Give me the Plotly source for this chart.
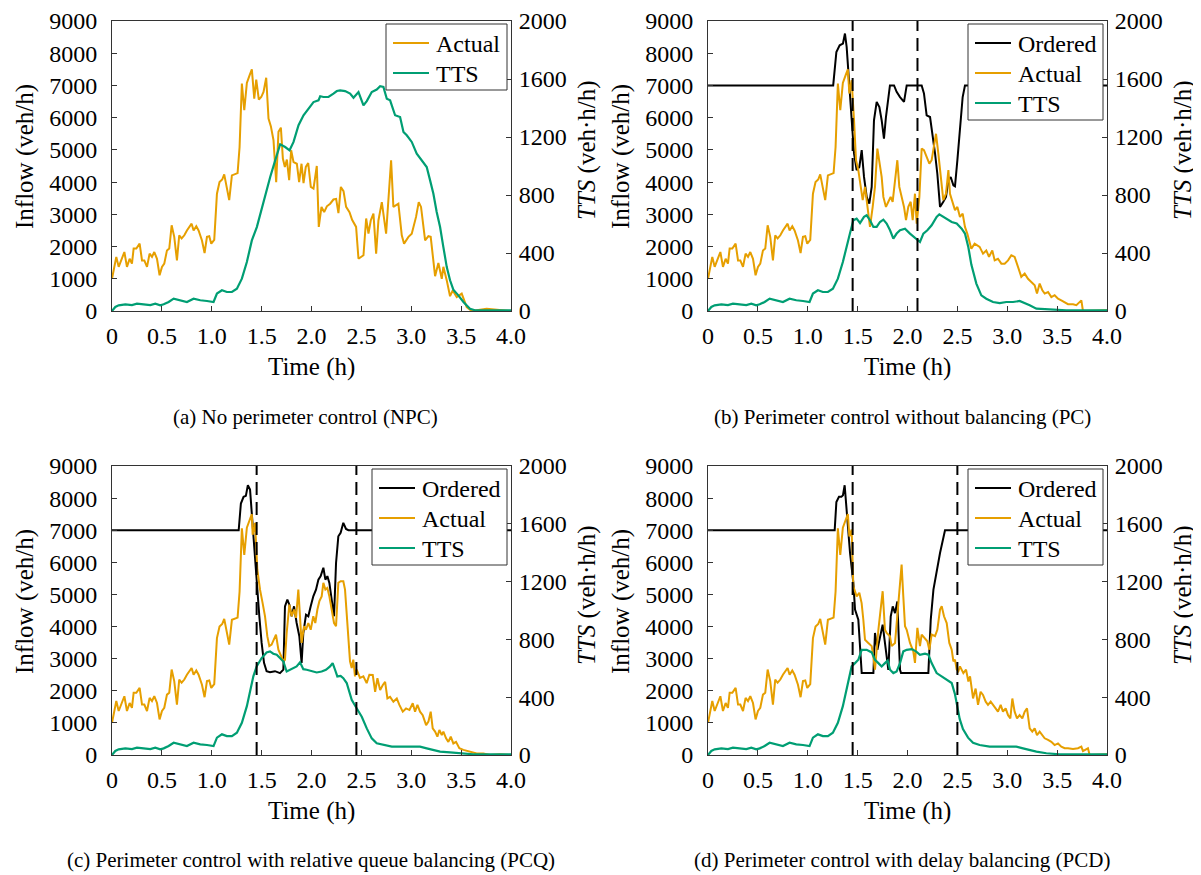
import plotly.graph_objects as go

SW, SH = 1201, 875          # browser window
OFF = 8                     # default body margin of the html page
W, H = SW - OFF, SH - OFF   # paper starts at screen (8, 8) and reaches the window edge
ORANGE = "#E69F00"
TEAL = "#009E73"
BLACK = "#000000"
AXC = "#333333"
FONT = "Liberation Serif"
TEXT_FONT = "Times New Roman"

# ---------------- tick labels ----------------
X_TICKS = [0, 0.5, 1.0, 1.5, 2.0, 2.5, 3.0, 3.5, 4.0]
X_TICK_TEXT = ["0", "0.5", "1.0", "1.5", "2.0", "2.5", "3.0", "3.5", "4.0"]
INFLOW_TICKS = [0, 1000, 2000, 3000, 4000, 5000, 6000, 7000, 8000, 9000]
TTS_TICKS = [0, 400, 800, 1200, 1600, 2000]

# ---------------- data: (time h, value) ----------------
# Actual inflow (veh/h), identical in all scenarios before control starts
ACT_COMMON = [(0.0, 1000), (0.043, 1680), (0.067, 1370), (0.090, 1570), (0.124, 1830), (0.150, 1370),
              (0.177, 1620), (0.200, 1470), (0.217, 1940), (0.244, 1940), (0.277, 2090), (0.301, 1570),
              (0.324, 1570), (0.351, 1370), (0.377, 1780), (0.401, 1680), (0.424, 1830), (0.451, 1620),
              (0.477, 1110), (0.501, 1370), (0.524, 1470), (0.551, 1880), (0.574, 1940), (0.598, 2660),
              (0.624, 2300), (0.651, 1570), (0.674, 2350), (0.698, 2250), (0.725, 2350), (0.751, 2500),
              (0.798, 2710), (0.818, 2500), (0.845, 2630), (0.868, 2500), (0.902, 2190), (0.928, 1800),
              (0.952, 2300), (0.975, 2320), (0.995, 2090), (1.025, 2210), (1.052, 3640), (1.078, 4000),
              (1.105, 4080), (1.125, 4240), (1.152, 3850), (1.175, 3440), (1.202, 4210), (1.235, 4240),
              (1.259, 4280), (1.279, 5090), (1.302, 7060), (1.326, 6230), (1.352, 7080), (1.379, 7310),
              (1.402, 7500)]
# TTS (veh.h/h), common part
TTS_COMMON = [(0.0, 0), (0.033, 28), (0.067, 39), (0.134, 46), (0.200, 41), (0.250, 51), (0.317, 46),
              (0.384, 41), (0.434, 51), (0.484, 39), (0.518, 46), (0.568, 62), (0.618, 85), (0.684, 74),
              (0.751, 62), (0.818, 85), (0.885, 74), (0.952, 69), (1.018, 62), (1.052, 120), (1.102, 143),
              (1.152, 131), (1.202, 131), (1.252, 154), (1.302, 223), (1.352, 338), (1.402, 487)]

# (a) NPC
A_ACT = [(1.426, 6590), (1.446, 7180), (1.472, 6560), (1.496, 6640), (1.519, 6800), (1.546, 7240),
         (1.569, 5970), (1.593, 5730), (1.619, 5300), (1.646, 4000), (1.669, 5560), (1.693, 5690),
         (1.713, 4730), (1.733, 4470), (1.753, 4700), (1.776, 4060), (1.796, 4990), (1.820, 4620),
         (1.853, 4570), (1.876, 4000), (1.900, 4570), (1.920, 3970), (1.943, 4470), (1.967, 4590),
         (1.993, 3850), (2.020, 3800), (2.053, 4500), (2.073, 2610), (2.100, 3230), (2.127, 3070),
         (2.154, 3250), (2.187, 3330), (2.220, 3460), (2.247, 3480), (2.270, 3040), (2.294, 3850),
         (2.321, 3720), (2.347, 3230), (2.381, 3070), (2.407, 2830), (2.447, 2610), (2.471, 1620),
         (2.521, 1730), (2.548, 2870), (2.571, 2400), (2.594, 2810), (2.621, 3020), (2.648, 1780),
         (2.671, 2810), (2.705, 3380), (2.748, 2400), (2.798, 4680), (2.821, 3230), (2.871, 3330),
         (2.905, 2350), (2.928, 2090), (2.972, 2300), (3.005, 2400), (3.048, 2920), (3.075, 3380),
         (3.098, 3230), (3.139, 2190), (3.172, 2320), (3.195, 2300), (3.239, 1080), (3.272, 1490),
         (3.306, 1000), (3.322, 1370), (3.356, 950), (3.389, 460), (3.416, 640), (3.456, 430),
         (3.506, 540), (3.556, 120), (3.606, 0), (3.756, 70), (4.0, 0)]
A_TTS = [(1.452, 579), (1.503, 717), (1.553, 855), (1.586, 924), (1.636, 1039), (1.686, 1150),
         (1.736, 1131), (1.780, 1108), (1.820, 1166), (1.870, 1281), (1.920, 1350), (1.970, 1396),
         (2.020, 1441), (2.070, 1453), (2.087, 1481), (2.120, 1476), (2.170, 1476), (2.220, 1499),
         (2.254, 1517), (2.287, 1522), (2.337, 1517), (2.387, 1499), (2.421, 1471), (2.471, 1510),
         (2.521, 1418), (2.554, 1448), (2.604, 1510), (2.654, 1527), (2.688, 1550), (2.721, 1545),
         (2.755, 1464), (2.788, 1453), (2.838, 1350), (2.888, 1338), (2.922, 1235), (2.955, 1212),
         (3.005, 1166), (3.055, 1085), (3.105, 1039), (3.155, 993), (3.189, 901), (3.222, 809),
         (3.255, 683), (3.289, 579), (3.322, 441), (3.356, 303), (3.389, 212), (3.422, 147),
         (3.472, 108), (3.523, 62), (3.589, 16), (3.639, 5), (4.0, 5)]

# (b) PC
B_ORD = [(0.0, 7000), (1.255, 7000), (1.287, 8040), (1.320, 8245), (1.353, 8300), (1.373, 8610),
         (1.390, 8195), (1.417, 6950), (1.440, 5710), (1.464, 4890), (1.490, 4370), (1.517, 4470),
         (1.541, 4990), (1.564, 4160), (1.591, 3540), (1.617, 3330), (1.641, 3850), (1.664, 5920),
         (1.691, 6490), (1.718, 6330), (1.741, 5920), (1.764, 5350), (1.784, 6020), (1.808, 6640),
         (1.824, 7000), (1.865, 7000), (1.891, 6800), (1.925, 6640), (1.965, 6490), (1.992, 7000),
         (2.142, 7000), (2.165, 6750), (2.192, 6070), (2.226, 6020), (2.252, 5500), (2.276, 4890),
         (2.299, 4260), (2.326, 3230), (2.359, 3390), (2.386, 3540), (2.410, 4060), (2.433, 4160),
         (2.460, 3900), (2.476, 3870), (2.500, 4680), (2.526, 5710), (2.553, 6640), (2.576, 7000),
         (4.0, 7000)]
B_ACT = [(1.417, 6750), (1.440, 7160), (1.464, 5920), (1.484, 4680), (1.507, 4370), (1.531, 3850),
         (1.551, 3440), (1.574, 3850), (1.597, 3230), (1.624, 2610), (1.651, 3230), (1.674, 3850),
         (1.698, 5040), (1.718, 4680), (1.741, 4160), (1.758, 3540), (1.784, 3230), (1.808, 3390),
         (1.831, 3540), (1.851, 3390), (1.875, 4060), (1.898, 4680), (1.918, 3850), (1.942, 3540),
         (1.965, 3230), (1.985, 2820), (2.008, 3230), (2.032, 3390), (2.052, 2820), (2.075, 3640),
         (2.092, 2710), (2.119, 3540), (2.142, 5040), (2.165, 4990), (2.192, 4780), (2.219, 4570),
         (2.242, 4680), (2.266, 5090), (2.286, 5500), (2.309, 4890), (2.326, 4370), (2.343, 3850),
         (2.359, 3440), (2.386, 3640), (2.410, 4370), (2.426, 3640), (2.453, 3390), (2.476, 3130),
         (2.500, 3230), (2.526, 2920), (2.553, 3020), (2.576, 2610), (2.600, 2400), (2.617, 2190),
         (2.640, 1930), (2.673, 2090), (2.697, 2040), (2.723, 1990), (2.757, 1780), (2.790, 1880),
         (2.817, 1680), (2.850, 1880), (2.874, 1570), (2.907, 1620), (2.941, 1470), (2.974, 1470),
         (3.008, 1570), (3.041, 1730), (3.074, 1680), (3.108, 1370), (3.141, 1060), (3.175, 1160),
         (3.208, 1000), (3.241, 900), (3.275, 800), (3.298, 540), (3.325, 850), (3.352, 640),
         (3.375, 540), (3.409, 590), (3.442, 430), (3.475, 490), (3.509, 380), (3.542, 330),
         (3.576, 280), (3.609, 210), (3.659, 210), (3.693, 180), (3.743, 330), (3.759, 0), (4.0, 20)]
B_TTS = [(1.423, 534), (1.457, 626), (1.490, 637), (1.524, 607), (1.564, 649), (1.591, 660),
         (1.624, 626), (1.658, 580), (1.691, 580), (1.724, 614), (1.758, 630), (1.791, 603),
         (1.825, 557), (1.858, 499), (1.891, 534), (1.925, 557), (1.975, 568), (2.025, 534),
         (2.065, 511), (2.099, 488), (2.125, 476), (2.159, 534), (2.199, 557), (2.242, 591),
         (2.292, 649), (2.319, 667), (2.359, 649), (2.393, 637), (2.443, 614), (2.493, 603),
         (2.543, 568), (2.576, 534), (2.610, 440), (2.640, 320), (2.690, 189), (2.740, 108),
         (2.790, 85), (2.857, 62), (2.924, 55), (2.991, 62), (3.058, 62), (3.124, 69), (3.175, 51),
         (3.225, 39), (3.292, 16), (3.425, 9), (3.592, 5), (4.0, 5)]
B_SWITCH = [1.45, 2.10]

# (c) PCQ
C_ORD = [(0.0, 7000), (1.270, 7000), (1.292, 7830), (1.319, 8040), (1.342, 8070), (1.362, 8400),
         (1.384, 8265), (1.400, 7540), (1.424, 6500), (1.450, 5460), (1.477, 4320), (1.500, 3490),
         (1.524, 2870), (1.550, 2610), (1.584, 2575), (1.634, 2610), (1.684, 2550), (1.718, 2660),
         (1.734, 4630), (1.758, 4840), (1.778, 4680), (1.801, 4320), (1.825, 4630), (1.851, 4110),
         (1.878, 3700), (1.901, 2870), (1.918, 3800), (1.945, 4370), (1.968, 4320), (1.992, 4630),
         (2.018, 4940), (2.045, 5150), (2.069, 5460), (2.092, 5570), (2.119, 5830), (2.139, 5460),
         (2.159, 5570), (2.179, 5360), (2.202, 4840), (2.226, 4320), (2.246, 5980), (2.269, 6810),
         (2.292, 6920), (2.319, 7230), (2.346, 7040), (2.370, 7000), (4.0, 7000)]
C_ACT = [(1.410, 6860), (1.434, 7230), (1.457, 5770), (1.484, 5150), (1.510, 4730), (1.534, 4320),
         (1.557, 3700), (1.577, 3390), (1.600, 3440), (1.624, 3590), (1.644, 3750), (1.668, 3280),
         (1.691, 3130), (1.711, 2970), (1.734, 2970), (1.751, 3800), (1.778, 4680), (1.801, 4320),
         (1.825, 4530), (1.845, 4270), (1.868, 5150), (1.885, 4320), (1.901, 3490), (1.925, 4010),
         (1.945, 3900), (1.968, 4110), (1.992, 3900), (2.018, 4320), (2.038, 4110), (2.059, 4530),
         (2.079, 4790), (2.102, 4940), (2.119, 5360), (2.139, 5150), (2.159, 5200), (2.179, 4940),
         (2.202, 4530), (2.226, 4110), (2.246, 4010), (2.269, 5360), (2.292, 5410), (2.319, 5410),
         (2.336, 5150), (2.353, 4320), (2.369, 3490), (2.386, 2920), (2.403, 2710), (2.419, 2970),
         (2.436, 2450), (2.453, 2660), (2.486, 2400), (2.520, 2450), (2.553, 2240), (2.580, 2500),
         (2.614, 2490), (2.638, 1970), (2.661, 2390), (2.688, 2020), (2.715, 2180), (2.738, 2280),
         (2.761, 1760), (2.788, 1810), (2.821, 1660), (2.855, 1760), (2.881, 1560), (2.915, 1350),
         (2.948, 1450), (2.982, 1400), (3.015, 1610), (3.038, 1350), (3.062, 1560), (3.088, 1350),
         (3.115, 1240), (3.149, 930), (3.172, 1040), (3.195, 1350), (3.215, 830), (3.239, 730),
         (3.262, 570), (3.282, 780), (3.306, 620), (3.322, 730), (3.349, 520), (3.372, 410),
         (3.396, 570), (3.422, 360), (3.449, 410), (3.482, 210), (3.523, 160), (3.589, 100),
         (3.656, 50), (3.723, 50), (3.790, 0), (3.890, 20), (4.0, 0)]
C_TTS = [(1.417, 544), (1.450, 613), (1.500, 671), (1.550, 710), (1.584, 717), (1.617, 701),
         (1.651, 694), (1.684, 671), (1.718, 647), (1.751, 578), (1.785, 590), (1.818, 601),
         (1.851, 613), (1.885, 641), (1.918, 594), (1.952, 590), (2.002, 578), (2.052, 571),
         (2.102, 578), (2.145, 590), (2.186, 613), (2.212, 636), (2.236, 590), (2.259, 544),
         (2.292, 548), (2.319, 532), (2.353, 498), (2.380, 428), (2.403, 382), (2.454, 322),
         (2.504, 265), (2.554, 184), (2.604, 115), (2.654, 81), (2.721, 69), (2.805, 58),
         (2.888, 58), (2.988, 58), (3.088, 58), (3.155, 46), (3.222, 35), (3.289, 23), (3.389, 18),
         (3.489, 12), (3.623, 5), (4.0, 5)]
C_SWITCH = [1.45, 2.45]

# (d) PCD
D_ORD = [(0.0, 7000), (1.270, 7000), (1.287, 7880), (1.313, 8040), (1.337, 8040), (1.353, 8090),
         (1.370, 8400), (1.390, 7540), (1.424, 6290), (1.457, 5360), (1.474, 4530), (1.507, 4210),
         (1.524, 3490), (1.541, 2550), (1.658, 2550), (1.674, 3800), (1.698, 3280), (1.751, 4060),
         (1.791, 3070), (1.808, 2650), (1.832, 4320), (1.852, 4630), (1.875, 4420), (1.898, 4780),
         (1.925, 2650), (1.935, 2550), (2.209, 2550), (2.233, 4210), (2.260, 5150), (2.293, 5770),
         (2.326, 6290), (2.376, 7000), (4.0, 7000)]
D_ACT = [(1.417, 6810), (1.440, 7020), (1.457, 5250), (1.490, 4940), (1.517, 5050), (1.540, 4730),
         (1.557, 4220), (1.574, 3590), (1.607, 3490), (1.641, 3390), (1.657, 3070), (1.674, 2660),
         (1.708, 3900), (1.731, 4530), (1.751, 5100), (1.774, 3900), (1.791, 3800), (1.824, 3700),
         (1.841, 3390), (1.875, 3490), (1.891, 4110), (1.908, 4730), (1.925, 5150), (1.941, 5930),
         (1.958, 4940), (1.975, 4010), (1.992, 3900), (2.025, 3490), (2.058, 3230), (2.075, 2870),
         (2.099, 3960), (2.125, 3390), (2.142, 3750), (2.175, 3640), (2.199, 3540), (2.219, 3280),
         (2.242, 3750), (2.276, 3700), (2.299, 3900), (2.326, 4530), (2.343, 4630), (2.366, 4320),
         (2.393, 4110), (2.419, 3490), (2.443, 3280), (2.460, 2920), (2.476, 2970), (2.493, 2660),
         (2.510, 2610), (2.526, 2760), (2.560, 2550), (2.587, 2660), (2.610, 2290), (2.627, 2450),
         (2.657, 1760), (2.683, 2070), (2.707, 1560), (2.733, 1970), (2.757, 1870), (2.784, 1660),
         (2.807, 1560), (2.834, 1660), (2.857, 1560), (2.884, 1450), (2.907, 1350), (2.934, 1560),
         (2.957, 1350), (2.984, 1450), (3.008, 1240), (3.031, 1140), (3.051, 1760), (3.074, 1350),
         (3.098, 1140), (3.124, 1240), (3.151, 1140), (3.175, 1350), (3.198, 1450), (3.225, 830),
         (3.251, 730), (3.275, 830), (3.298, 620), (3.325, 730), (3.352, 620), (3.375, 520),
         (3.409, 470), (3.442, 410), (3.475, 310), (3.509, 360), (3.542, 260), (3.576, 210),
         (3.609, 210), (3.659, 190), (3.709, 210), (3.743, 260), (3.759, 120), (3.809, 210),
         (3.826, 0), (4.0, 20)]
D_TTS = [(1.440, 613), (1.474, 636), (1.507, 659), (1.541, 728), (1.591, 728), (1.641, 710),
         (1.674, 659), (1.708, 636), (1.741, 613), (1.774, 636), (1.801, 654), (1.825, 590),
         (1.858, 567), (1.891, 578), (1.925, 636), (1.958, 717), (1.992, 728), (2.042, 733),
         (2.085, 717), (2.125, 694), (2.175, 701), (2.209, 694), (2.242, 636), (2.292, 567),
         (2.342, 544), (2.393, 525), (2.443, 498), (2.476, 420), (2.493, 350), (2.523, 250),
         (2.556, 180), (2.607, 120), (2.657, 85), (2.723, 69), (2.824, 58), (2.924, 58), (3.024, 58),
         (3.091, 58), (3.158, 46), (3.225, 35), (3.292, 23), (3.392, 12), (3.525, 5), (4.0, 5)]
D_SWITCH = [1.45, 2.50]

CAPTIONS = ["(a) No perimeter control (NPC)",
            "(b) Perimeter control without balancing (PC)",
            "(c) Perimeter control with relative queue balancing (PCQ)",
            "(d) Perimeter control with delay balancing (PCD)"]


def xy(*segs):
    pts = [p for s in segs for p in s]
    return [p[0] for p in pts], [p[1] for p in pts]


panels = [
    dict(ordered=None, actual=xy(ACT_COMMON, A_ACT), tts=xy(TTS_COMMON, A_TTS), switch=[]),
    dict(ordered=xy(B_ORD), actual=xy(ACT_COMMON, B_ACT), tts=xy(TTS_COMMON, B_TTS), switch=B_SWITCH),
    dict(ordered=xy(C_ORD), actual=xy(ACT_COMMON, C_ACT), tts=xy(TTS_COMMON, C_TTS), switch=C_SWITCH),
    dict(ordered=xy(D_ORD), actual=xy(ACT_COMMON, D_ACT), tts=xy(TTS_COMMON, D_TTS), switch=D_SWITCH),
]

# screen-pixel boxes of the plot areas (left, right, top, bottom) and caption centres
BOXES = [(112, 511, 21, 311), (708, 1107, 21, 311), (112, 511, 466, 755), (708, 1107, 466, 755)]
CAP_POS = [(305, 417), (902, 417), (311, 860), (902, 860)]


def px(sx):
    return (sx - OFF) / W


def py(sy):
    return 1 - (sy - OFF) / H


def fnt(size):
    return dict(family=FONT, size=size, color="black")


fig = go.Figure()
layout = dict(template="none", width=W, height=H,
              margin=dict(l=0, r=0, t=0, b=0, pad=0, autoexpand=False),
              paper_bgcolor="white", plot_bgcolor="white", showlegend=False,
              font=dict(family=FONT, color="black"))
shapes = []
texts = []   # (text, x_screen, y_screen, size, angle, xanchor)

for i, (p, box) in enumerate(zip(panels, BOXES)):
    L, R, T, B = box
    n = i + 1
    xa = "x" if n == 1 else f"x{n}"
    ya = "y" if n == 1 else f"y{2*n-1}"
    ya2 = f"y{2*n}"
    xkey = "xaxis" if n == 1 else f"xaxis{n}"
    ykey = "yaxis" if n == 1 else f"yaxis{2*n-1}"
    y2key = f"yaxis{2*n}"
    common = dict(ticks="inside", ticklen=5, tickwidth=1, tickcolor=AXC, showline=True, linecolor=AXC,
                  linewidth=1, showgrid=False, zeroline=False, tickfont=fnt(24), automargin=False)
    layout[xkey] = dict(domain=[px(L), px(R)], anchor=ya, range=[0, 4], tickvals=X_TICKS,
                        ticktext=X_TICK_TEXT, mirror=True, ticklabelstandoff=3, **common)
    layout[ykey] = dict(domain=[py(B), py(T)], anchor=xa, range=[0, 9000], tickvals=INFLOW_TICKS,
                        ticklabelstandoff=9, **common)
    layout[y2key] = dict(overlaying=ya, side="right", anchor=xa, range=[0, 2000], tickvals=TTS_TICKS,
                         ticklabelstandoff=2, **common)

    entries = []
    if p["ordered"] is not None:
        fig.add_trace(go.Scatter(x=p["ordered"][0], y=p["ordered"][1], mode="lines", name="Ordered",
                                 line=dict(color=BLACK, width=2), xaxis=xa, yaxis=ya))
        entries.append(("Ordered", BLACK))
    fig.add_trace(go.Scatter(x=p["actual"][0], y=p["actual"][1], mode="lines", name="Actual",
                             line=dict(color=ORANGE, width=2), xaxis=xa, yaxis=ya))
    entries.append(("Actual", ORANGE))
    fig.add_trace(go.Scatter(x=p["tts"][0], y=p["tts"][1], mode="lines", name="TTS",
                             line=dict(color=TEAL, width=2.2), xaxis=xa, yaxis=ya2))
    entries.append(("TTS", TEAL))

    for s in p["switch"]:
        shapes.append(dict(type="line", xref=xa, yref=f"{ya} domain", x0=s, x1=s, y0=0, y1=1,
                           line=dict(color=BLACK, width=2, dash="13px,7px"), layer="above"))

    # legend box (drawn as shapes + text)
    bw = 135 if len(entries) == 3 else 121
    br, bt = R - 4, T + 3
    bl = br - bw
    bb = bt + 30 * len(entries) + 6
    shapes.append(dict(type="rect", xref="paper", yref="paper", x0=px(bl), x1=px(br), y0=py(bb), y1=py(bt),
                       line=dict(color=AXC, width=1), fillcolor="white", layer="above"))
    for k, (name, col) in enumerate(entries):
        ry = bt + 19 + 30 * k
        shapes.append(dict(type="line", xref="paper", yref="paper", x0=px(bl + 7), x1=px(bl + 43),
                           y0=py(ry), y1=py(ry), line=dict(color=col, width=2.2), layer="above"))
        texts.append((name, bl + 48, ry + 1, 24, 0, "left"))

    cx = (L + R) / 2
    texts.append(("Time (h)", cx, B + 56, 25, 0, "center"))
    texts.append(("Inflow (veh/h)", L - 87, T + 136, 25, -90, "center"))
    texts.append(("<i>TTS</i> (veh·h/h)", R + 76, T + 129, 25, -90, "center"))
    cxp, cyp = CAP_POS[i]
    texts.append((CAPTIONS[i], cxp, cyp, 21, 0, "center"))

layout["shapes"] = shapes
fig.update_layout(**layout)
for (t, sx, sy, size, ang, xanc) in texts:
    fig.add_annotation(text=t, x=px(sx), y=py(sy), xref="paper", yref="paper", showarrow=False,
                       textangle=ang, xanchor=xanc, yanchor="middle",
                       font=dict(family=TEXT_FONT, size=size, color="black"))
fig.write_html("out.html")
